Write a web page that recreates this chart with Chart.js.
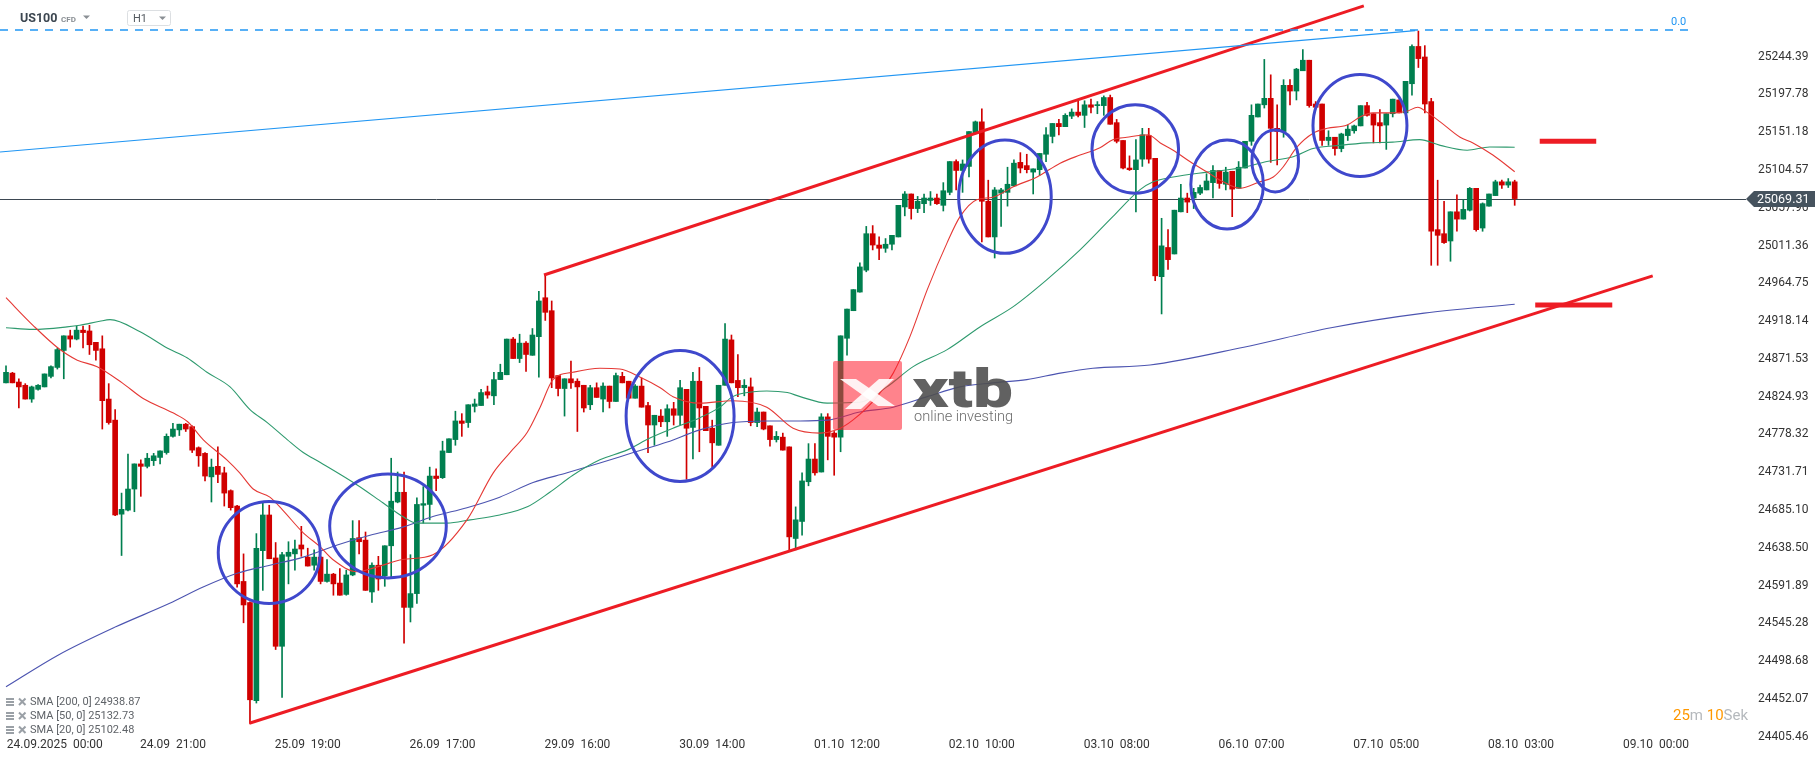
<!DOCTYPE html>
<html>
<head>
<meta charset="utf-8">
<script src="https://cdn.jsdelivr.net/npm/chart.js@4.4.1/dist/chart.umd.min.js"></script>
<style>
  html, body { margin: 0; padding: 0; background: #fff; }
  #wrap { position: relative; width: 1815px; height: 761px; }
</style>
</head>
<body>
<div id="wrap"><canvas id="chart" width="1815" height="761"></canvas></div>
<script>
// US100 CFD, H1 candles
const opens = [
  24842,24854,24843,24839,24822,24834,24837,24850,24861,24882,
  24900,24896,24907,24906,24892,24884,24822,24796,24680,24685,
  24711,24742,24739,24746,24750,24756,24776,24784,24791,24788,
  24762,24755,24726,24739,24731,24709,24690,24597,24571,24450,
  24635,24679,24626,24517,24628,24631,24642,24627,24617,24627,
  24597,24606,24595,24581,24605,24651,24648,24584,24617,24604,
  24641,24695,24707,24565,24582,24691,24692,24727,24725,24756,
  24772,24795,24793,24813,24814,24831,24826,24846,24852,24896,
  24872,24891,24876,24899,24947,24931,24851,24835,24847,24844,
  24839,24815,24836,24822,24838,24819,24850,24844,24823,24838,
  24814,24790,24801,24794,24810,24802,24834,24787,24844,24813,
  24786,24765,24839,24895,24845,24836,24837,24793,24806,24789,24772,
  24775,24763,24650,24671,24720,24748,24732,24800,24780,24775,
  24897,24931,24954,24981,25026,25012,25008,25013,25022,25059,
  25075,25057,25063,25067,25070,25061,25077,25115,25104,25109,
  25150,25164,25066,25022,25076,25077,25085,25114,25110,25102,
  25105,25124,25146,25162,25158,25171,25176,25172,25185,25184,
  25184,25194,25163,25141,25107,25105,25118,25147,25119,24973,
  25009,25001,25053,25070,25070,25076,25080,25089,25104,25087,
  25103,25082,25107,25140,25170,25185,25193,25156,25152,25209,
  25202,25227,25240,25186,25186,25141,25145,25131,25147,25153,
  25159,25184,25174,25163,25160,25174,25191,25175,25211,25257,
  25244,25189,25031,25026,25017,25053,25044,25055,25082,25033,
  25060,25073,25090,25086,25090
];
const highs = [
  24863,24855,24847,24841,24838,24840,24853,24863,24885,24900,
  24907,24912,24912,24913,24892,24900,24841,24809,24706,24754,
  24742,24747,24755,24755,24758,24779,24792,24791,24792,24789,
  24763,24756,24748,24763,24738,24710,24691,24631,24572,24656,
  24695,24691,24645,24633,24646,24648,24665,24638,24636,24628,
  24624,24607,24613,24611,24672,24672,24658,24620,24628,24641,
  24749,24732,24732,24630,24700,24714,24738,24736,24770,24773,
  24807,24804,24815,24822,24834,24838,24855,24865,24896,24898,
  24902,24893,24909,24955,24975,24943,24851,24847,24869,24847,
  24839,24839,24842,24842,24838,24854,24855,24844,24840,24848,
  24818,24802,24809,24815,24818,24845,24834,24855,24861,24813,
  24796,24839,24915,24901,24877,24846,24848,24811,24806,24789,24782,
  24780,24763,24689,24731,24767,24767,24804,24804,24782,24900,
  24933,24957,24990,25035,25036,25022,25020,25024,25061,25078,
  25075,25072,25075,25078,25075,25089,25115,25117,25117,25152,
  25165,25180,25092,25083,25082,25108,25117,25126,25124,25106,
  25125,25157,25162,25167,25174,25180,25190,25190,25192,25189,
  25196,25197,25167,25141,25122,25142,25156,25156,25119,25045,
  25031,25055,25087,25076,25082,25086,25100,25110,25104,25108,
  25103,25115,25140,25185,25186,25241,25222,25185,25216,25216,
  25230,25253,25240,25189,25186,25153,25145,25150,25160,25160,
  25184,25188,25174,25179,25174,25192,25191,25214,25259,25276,
  25258,25193,25092,25066,25053,25074,25068,25083,25082,25064,
  25075,25092,25092,25094,25092
];
const lows = [
  24842,24842,24811,24822,24818,24833,24837,24848,24859,24847,
  24886,24895,24885,24877,24870,24785,24791,24678,24629,24684,
  24683,24702,24737,24740,24742,24754,24775,24777,24782,24756,
  24739,24721,24695,24719,24690,24685,24590,24546,24422,24447,
  24586,24625,24513,24454,24594,24611,24628,24616,24611,24594,
  24596,24580,24580,24580,24604,24631,24586,24571,24586,24591,
  24601,24694,24521,24547,24570,24669,24673,24709,24724,24756,
  24765,24776,24787,24806,24814,24823,24815,24846,24852,24872,
  24867,24856,24876,24849,24919,24836,24826,24801,24835,24782,
  24806,24809,24824,24806,24811,24819,24842,24823,24823,24812,
  24756,24765,24788,24776,24790,24790,24723,24748,24757,24783,
  24738,24765,24839,24842,24825,24826,24789,24788,24784,24764,24769,
  24759,24636,24636,24654,24715,24728,24732,24747,24728,24757,
  24876,24931,24954,24979,25006,24994,25003,25006,25022,25048,
  25044,25052,25052,25061,25062,25054,25074,25080,25077,25096,
  25149,25016,25022,24996,25035,25060,25084,25101,25101,25075,
  25098,25115,25138,25148,25158,25168,25170,25157,25175,25174,
  25172,25161,25138,25106,25104,25053,25109,25113,24968,24927,
  24982,25001,25053,25052,25057,25074,25080,25070,25082,25080,
  25047,25082,25107,25135,25170,25181,25114,25111,25145,25185,
  25191,25227,25182,25181,25135,25135,25123,25127,25141,25150,
  25159,25171,25138,25138,25130,25170,25175,25175,25197,25231,
  25175,24987,24987,25014,24992,25029,25044,25054,25029,25029,
  25060,25073,25082,25083,25061
];
const closes = [
  24855,24842,24837,24822,24837,24839,24853,24862,24883,24900,
  24896,24907,24904,24889,24882,24820,24793,24679,24686,24711,
  24742,24739,24749,24752,24758,24776,24785,24791,24785,24759,
  24752,24727,24738,24729,24706,24688,24594,24568,24451,24638,
  24679,24625,24517,24630,24633,24637,24637,24616,24627,24597,
  24606,24594,24580,24605,24650,24646,24586,24617,24600,24641,
  24696,24707,24565,24582,24692,24693,24727,24724,24758,24773,
  24795,24792,24815,24816,24830,24827,24846,24855,24896,24872,
  24891,24877,24901,24943,24929,24848,24835,24847,24842,24837,
  24811,24836,24824,24838,24819,24851,24842,24823,24838,24812,
  24790,24802,24794,24810,24802,24836,24786,24844,24811,24783,
  24768,24839,24896,24842,24836,24839,24793,24806,24785,24772,24776,
  24759,24652,24673,24721,24748,24731,24800,24776,24775,24900,
  24933,24957,24985,25026,25012,25008,25013,25024,25061,25075,
  25057,25066,25070,25070,25063,25079,25115,25104,25112,25152,
  25164,25066,25022,25080,25080,25087,25113,25107,25105,25106,
  25125,25148,25162,25158,25172,25176,25172,25185,25182,25185,
  25194,25161,25140,25107,25105,25117,25148,25118,24974,25011,
  24994,25055,25070,25065,25077,25083,25091,25104,25088,25102,
  25081,25108,25140,25172,25186,25193,25156,25152,25209,25202,
  25229,25240,25184,25182,25141,25145,25131,25149,25155,25159,
  25184,25172,25160,25159,25174,25192,25175,25214,25257,25242,
  25186,25029,25024,25015,25053,25044,25056,25082,25031,25063,
  25075,25090,25086,25090,25069.31
];

// moving averages, sampled along the drawn lines (x = candle index)
const sma20X = [0,4.2,8.1,11.1,14.2,18.1,21.3,26.0,28.3,30.7,34.4,36.4,38.5,41.1,43.1,46.3,48.9,50.9,54.7,57.8,61.8,66.5,71.8,75.9,78.5,81.2,83.2,85.2,88.3,92.5,95.6,98.8,101.9,103.9,108.1,113.2,118.5,122.6,126.8,129.4,131.9,135.7,138.2,140.8,143.5,146.6,148.6,151.2,153.7,156.9,160.6,164.2,167.3,170.4,172.4,174.6,177.9,179.8,181.8,184.4,187.1,189.6,192.2,195.3,197.4,198.9,201.1,203.6,205.8,208.9,210.9,212.9,216.0,218.2,219.9,221.3,223.4,226.5,228.5,231.6,235];
const sma20Y = [24947,24913,24885,24870,24862,24842,24823,24805,24794,24772,24747,24731,24711,24701,24685,24657,24640,24624,24609,24615,24624,24630,24673,24731,24756,24781,24812,24846,24855,24860,24859,24849,24836,24825,24817,24820,24812,24786,24780,24784,24796,24825,24854,24899,24957,25015,25047,25068,25071,25084,25096,25113,25123,25132,25142,25145,25148,25138,25129,25115,25102,25090,25082,25090,25096,25108,25133,25150,25156,25160,25170,25175,25175,25177,25182,25176,25164,25145,25138,25123,25102.48];
const sma50X = [0,4.2,9.5,11.5,14.6,16.2,20.9,25.1,28.2,31.3,34.9,38.0,40.7,43.8,46.3,48.9,54.7,58.7,61.8,64.0,68.7,72.3,76.9,81.2,84.7,88.3,92.5,96.7,100.3,104.5,108.1,111.2,113.2,116.4,118.5,121.7,123.7,127.9,133.0,137.2,141.3,146.6,151.7,156.9,162.1,167.3,172.4,176.6,178.7,181.8,187.1,192.2,196.4,200.5,203.6,207.8,212.0,216.0,220.2,223.4,227.6,231.1,235];
const sma50Y = [24910,24908,24911,24913,24918,24920,24905,24885,24873,24855,24837,24809,24793,24772,24756,24744,24716,24694,24677,24669,24669,24673,24679,24689,24707,24728,24747,24759,24774,24788,24799,24812,24825,24831,24832,24830,24825,24817,24818,24837,24862,24883,24911,24936,24969,25006,25047,25080,25090,25096,25102,25107,25115,25121,25131,25135,25138,25139,25142,25135,25129,25133,25132.73];
const sma200X = [0,8.1,17.1,25.5,30.7,36.0,41.1,46.3,51.6,56.7,61.8,66.5,71.8,76.9,82.1,87.4,92.5,97.7,103.0,108.1,113.2,118.5,123.7,127.9,133.0,138.2,143.5,148.6,153.7,159.0,164.2,169.3,178.2,192.8,206.4,220.9,235];
const sma200Y = [24467,24506,24541,24570,24590,24607,24617,24627,24642,24654,24664,24677,24688,24701,24719,24731,24743,24756,24769,24784,24793,24795,24795,24796,24806,24812,24825,24837,24842,24846,24854,24860,24864,24886,24910,24928,24938.87];

// axis
const xTickIdx = [7.6, 26, 47, 68, 89, 110, 131, 152, 173, 194, 215, 236, 257];
const xTickLabels = ['24.09.2025  00:00','24.09  21:00','25.09  19:00','26.09  17:00','29.09  16:00','30.09  14:00','01.10  12:00','02.10  10:00','03.10  08:00','06.10  07:00','07.10  05:00','08.10  03:00','09.10  00:00'];
const yTickValues = [25244.39,25197.78,25151.18,25104.57,25057.96,25011.36,24964.75,24918.14,24871.53,24824.93,24778.32,24731.71,24685.10,24638.50,24591.89,24545.28,24498.68,24452.07,24405.46];
const X_MIN = -0.935, X_MAX = 271.03;
const Y_MIN = 24405.1, Y_MAX = 25314.3;
const lastPrice = 25069.31;

// drawings on the chart
const fiboLevel = 25277.3;
const fiboX = [-0.935, 262.3];
const trendX = [-0.935, 219.5];
const trendY = [25126.8, 25276.4];
const channelTopX = [83.8, 211.5];
const channelTopY = [24975, 25307];
const channelBotX = [37.9, 256.5];
const channelBotY = [24422, 24974];
const markerX = [[238.9, 247.7], [238.2, 250.2]];
const markerY = [25140, 24938];
const ellipseX = [41.0, 59.5, 105.0, 155.6, 175.9, 190.2, 197.7, 210.9];
const ellipseY = [24632.7, 24665.4, 24801.1, 25071.7, 25130.5, 25086.7, 25115.7, 25159.5];
const ellipseRx = [7.94, 9.08, 8.41, 7.21, 6.74, 5.65, 3.63, 7.32];
const ellipseRy = [62.9, 64.1, 80.8, 69.9, 54.5, 54.9, 38.2, 62.9];

const GREEN = '#007f4f', RED = '#d00000';
const FONT = 'Roboto';
Chart.defaults.font.family = FONT;

const idx = closes.map((_, i) => i);
const candleColors = idx.map(i => closes[i] >= opens[i] ? GREEN : RED);
const pts = (xs, ys) => xs.map((x, i) => ({ x, y: Array.isArray(ys) ? ys[i] : ys }));

function lineSet(data, color, width, extra) {
  return Object.assign({
    type: 'line', data, borderColor: color, borderWidth: width,
    pointRadius: 0, fill: false, tension: 0, order: 0
  }, extra || {});
}

const overlay = {
  id: 'overlay',
  beforeDatasetsDraw(chart) {
    const { ctx, chartArea, scales } = chart;
    const py = Math.round(scales.y.getPixelForValue(lastPrice)) + 0.5;
    ctx.save();
    ctx.strokeStyle = '#3d4852';
    ctx.lineWidth = 1;
    ctx.beginPath();
    ctx.moveTo(chartArea.left, py);
    ctx.lineTo(chartArea.right, py);
    ctx.stroke();
    ctx.restore();
  },
  afterDatasetsDraw(chart) {
    const { ctx, scales: { x, y } } = chart;
    ctx.save();
    // hand drawn circles
    ctx.strokeStyle = '#3f48cc';
    ctx.lineWidth = 3;
    ellipseX.forEach((cx, i) => {
      const px = x.getPixelForValue(cx), py = y.getPixelForValue(ellipseY[i]);
      const rx = Math.abs(x.getPixelForValue(cx + ellipseRx[i]) - px);
      const ry = Math.abs(y.getPixelForValue(ellipseY[i] + ellipseRy[i]) - py);
      ctx.beginPath();
      ctx.ellipse(px, py, rx, ry, 0, 0, Math.PI * 2);
      ctx.stroke();
    });

    // watermark
    ctx.fillStyle = 'rgba(255,30,45,0.55)';
    ctx.beginPath();
    ctx.roundRect(833, 361, 69, 69, 2);
    ctx.fill();
    ctx.fillStyle = 'rgba(255,255,255,0.9)';
    ctx.beginPath();
    ctx.moveTo(840, 379); ctx.lineTo(856, 379); ctx.lineTo(895, 406); ctx.lineTo(878, 406);
    ctx.closePath(); ctx.fill();
    ctx.beginPath();
    ctx.moveTo(845, 409); ctx.lineTo(861, 409); ctx.lineTo(894, 379); ctx.lineTo(879, 379);
    ctx.closePath(); ctx.fill();

    ctx.fillStyle = 'rgba(80,80,80,0.9)';
    ctx.font = '900 53px ' + FONT;
    ctx.textBaseline = 'alphabetic';
    let w = ctx.measureText('xtb').width;
    ctx.save();
    ctx.translate(912, 407);
    ctx.scale(101 / w, 1);
    ctx.fillText('xtb', 0, 0);
    ctx.restore();
    ctx.fillStyle = 'rgba(90,90,90,0.9)';
    ctx.font = '300 14px ' + FONT;
    w = ctx.measureText('online investing').width;
    ctx.save();
    ctx.translate(914, 421);
    ctx.scale(99 / w, 1);
    ctx.fillText('online investing', 0, 0);
    ctx.restore();
    ctx.restore();
  },
  afterDraw(chart) {
    const { ctx, scales: { y } } = chart;
    ctx.save();
    // last price tag
    const py = Math.round(y.getPixelForValue(lastPrice));
    ctx.fillStyle = '#46535e';
    ctx.beginPath();
    ctx.moveTo(1746, py);
    ctx.lineTo(1754, py - 8);
    ctx.lineTo(1815, py - 8);
    ctx.lineTo(1815, py + 8);
    ctx.lineTo(1754, py + 8);
    ctx.closePath();
    ctx.fill();
    ctx.fillStyle = '#fff';
    ctx.font = '12.5px ' + FONT;
    ctx.textBaseline = 'middle';
    ctx.textAlign = 'left';
    ctx.fillText(lastPrice.toFixed(2), 1757, py + 0.5);

    // fibo label
    ctx.fillStyle = '#2196f3';
    ctx.font = '11px ' + FONT;
    ctx.fillText('0.0', 1671, 22);

    // header
    ctx.fillStyle = '#3c4650';
    ctx.font = 'bold 12.5px ' + FONT;
    ctx.fillText('US100', 20, 19);
    ctx.fillStyle = '#8a8f94';
    ctx.font = 'bold 8px ' + FONT;
    ctx.fillText('CFD', 61, 20);
    ctx.beginPath(); ctx.moveTo(83, 15.5); ctx.lineTo(90, 15.5); ctx.lineTo(86.5, 19); ctx.closePath(); ctx.fill();
    ctx.strokeStyle = '#dcdfe2';
    ctx.lineWidth = 1;
    ctx.beginPath(); ctx.roundRect(127.5, 10.5, 43, 15, 2); ctx.stroke();
    ctx.fillStyle = '#555b61';
    ctx.font = '11px ' + FONT;
    ctx.fillText('H1', 133, 19.5);
    ctx.fillStyle = '#8a8f94';
    ctx.beginPath(); ctx.moveTo(159, 16.5); ctx.lineTo(166, 16.5); ctx.lineTo(162.5, 20); ctx.closePath(); ctx.fill();

    // indicator legend
    const legend = [
      'SMA [200, 0] ' + sma200Y[sma200Y.length - 1].toFixed(2),
      'SMA [50, 0] ' + sma50Y[sma50Y.length - 1].toFixed(2),
      'SMA [20, 0] ' + sma20Y[sma20Y.length - 1].toFixed(2)
    ];
    legend.forEach((t, i) => {
      const ly = 702 + i * 14;
      ctx.fillStyle = '#9aa0a6';
      ctx.fillRect(6, ly - 4, 8, 2);
      ctx.fillRect(6, ly - 1, 8, 2);
      ctx.fillRect(6, ly + 2, 8, 2);
      ctx.strokeStyle = '#9aa0a6';
      ctx.lineWidth = 2;
      ctx.beginPath();
      ctx.moveTo(19, ly - 3.5); ctx.lineTo(25.5, ly + 3);
      ctx.moveTo(25.5, ly - 3.5); ctx.lineTo(19, ly + 3);
      ctx.stroke();
      ctx.fillStyle = '#5f6368';
      ctx.font = '11px ' + FONT;
      ctx.fillText(t, 30, ly);
    });

    // candle countdown
    ctx.font = '15px ' + FONT;
    let tx = 1673;
    [['25', '#ff9800'], ['m', '#b5b9bd'], [' 10', '#ff9800'], ['Sek', '#b5b9bd']].forEach(([s, c]) => {
      ctx.fillStyle = c;
      ctx.fillText(s, tx, 716);
      tx += ctx.measureText(s).width;
    });
    ctx.restore();
  }
};

new Chart(document.getElementById('chart'), {
  type: 'bar',
  data: {
    datasets: [
      lineSet(pts(fiboX, fiboLevel), '#2196f3', 1.3, { borderDash: [8, 7] }),
      lineSet(pts(trendX, trendY), '#2196f3', 1.2),
      lineSet(pts(channelTopX, channelTopY), '#ed1c24', 3),
      lineSet(pts(channelBotX, channelBotY), '#ed1c24', 3),
      lineSet(pts(markerX[0], markerY[0]), '#ed1c24', 5),
      lineSet(pts(markerX[1], markerY[1]), '#ed1c24', 5),
      lineSet(pts(sma20X, sma20Y), '#e53935', 1.1, { tension: 0.3, cubicInterpolationMode: 'monotone', order: 1 }),
      lineSet(pts(sma50X, sma50Y), '#2e9a6e', 1.1, { tension: 0.3, cubicInterpolationMode: 'monotone', order: 1 }),
      lineSet(pts(sma200X, sma200Y), '#4c54b0', 1.1, { tension: 0.3, cubicInterpolationMode: 'monotone', order: 1 }),
      {
        type: 'bar', order: 2,
        data: idx.map(i => ({ x: i, y: [opens[i], closes[i]] })),
        backgroundColor: candleColors, borderWidth: 0,
        barThickness: 5, grouped: false, minBarLength: 1
      },
      {
        type: 'bar', order: 3,
        data: idx.map(i => ({ x: i, y: [lows[i], highs[i]] })),
        backgroundColor: candleColors, borderWidth: 0,
        barThickness: 1, grouped: false, minBarLength: 1
      }
    ]
  },
  options: {
    responsive: false,
    devicePixelRatio: 1,
    animation: false,
    events: [],
    layout: { padding: 0 },
    plugins: { legend: { display: false }, tooltip: { enabled: false } },
    scales: {
      x: {
        type: 'linear', min: X_MIN, max: X_MAX, offset: false,
        grid: { display: false, drawTicks: false, offset: false },
        border: { display: false },
        afterBuildTicks: s => { s.ticks = xTickIdx.map(v => ({ value: v })); },
        ticks: {
          autoSkip: false, maxRotation: 0, padding: 1, color: '#333',
          font: { family: FONT, size: 12 },
          callback: (v, i) => xTickLabels[i]
        },
        afterFit: s => { s.height = 24; s.paddingLeft = 0; s.paddingRight = 0; }
      },
      y: {
        type: 'linear', position: 'right', min: Y_MIN, max: Y_MAX,
        grid: { display: false, drawTicks: false },
        border: { display: false },
        afterBuildTicks: s => { s.ticks = yTickValues.map(v => ({ value: v })); },
        ticks: {
          autoSkip: false, padding: 12, color: '#333',
          font: { family: FONT, size: 12 },
          callback: v => Number(v).toFixed(2)
        },
        afterFit: s => { s.width = 69; s.paddingTop = 0; s.paddingBottom = 0; }
      }
    }
  },
  plugins: [overlay]
});
</script>
</body>
</html>
